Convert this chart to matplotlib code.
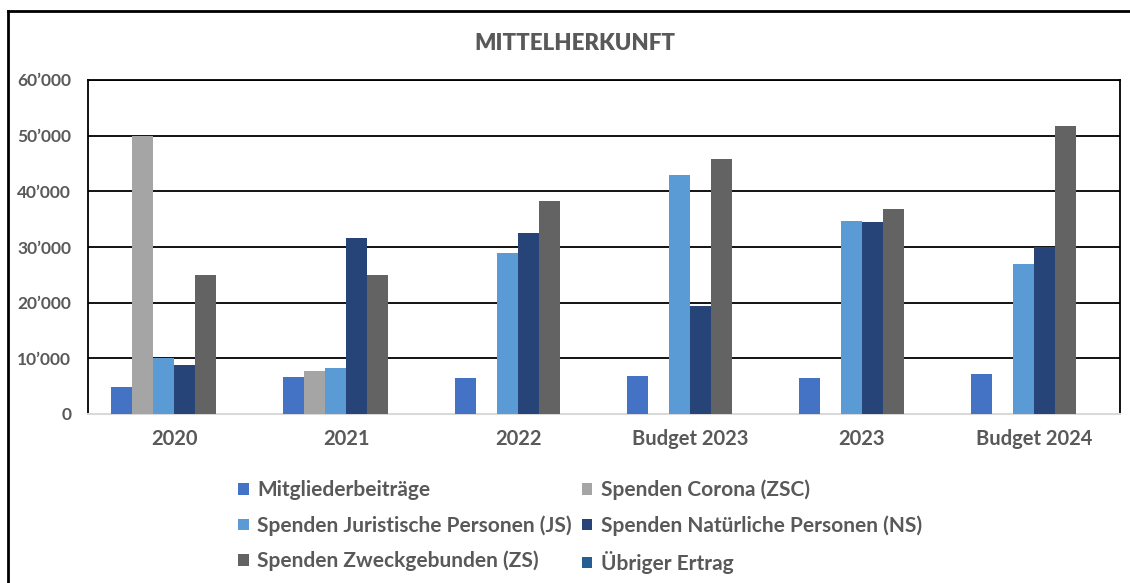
import matplotlib
matplotlib.use("Agg")

import matplotlib.pyplot as plt
from matplotlib.lines import Line2D
from matplotlib.ticker import FuncFormatter
import numpy as np

# data
categories = ["2020", "2021", "2022", "Budget 2023", "2023", "Budget 2024"]
series_names = ["Mitgliederbeiträge", "Spenden Corona (ZSC)",
                "Spenden Juristische Personen (JS)", "Spenden Natürliche Personen (NS)",
                "Spenden Zweckgebunden (ZS)", "Übriger Ertrag"]
mitglieder = [4800, 6700, 6500, 6900, 6500, 7200]
corona = [50000, 7800, 0, 0, 0, 0]
juristische = [10000, 8300, 29000, 43000, 34700, 27000]
natuerliche = [8800, 31700, 32500, 19400, 34500, 30000]
zweckgebunden = [25000, 25000, 38200, 45800, 36800, 51800]
uebriger = [0, 0, 0, 0, 0, 0]
colors = ["#4472C4", "#A5A5A5", "#5B9BD5", "#264478", "#636363", "#255E91"]

values = [mitglieder, corona, juristische, natuerliche, zweckgebunden, uebriger]

txt = "#595959"
plt.rcParams['font.family'] = ['Lato', 'DejaVu Sans']

fig = plt.figure(figsize=(11.3, 5.83), dpi=100)
ax = fig.add_axes([88/1130, 1-414/583, (1120-88)/1130, (414-80)/583])

x = np.arange(len(categories))
n = len(values)
w = 0.73 / n
bars = []
for i, (vals, col) in enumerate(zip(values, colors)):
    b = ax.bar(x + (i - (n-1)/2) * w, vals, width=w, color=col, zorder=3,
               label=series_names[i])
    bars.append(b)

ax.set_xlim(-0.5, len(categories) - 0.5)
ax.set_ylim(0, 60000)
ax.set_yticks(np.arange(0, 60001, 10000))
ax.yaxis.set_major_formatter(FuncFormatter(
    lambda v, p: "0" if v == 0 else "{:,.0f}".format(v).replace(",", "\u2019")))
ax.set_xticks(x)
ax.set_xticklabels(categories)
ax.tick_params(axis="both", length=0, colors=txt)
ax.tick_params(axis="y", labelsize=12.5, pad=12)
ax.tick_params(axis="x", labelsize=14.5, pad=11)
for lab in ax.get_xticklabels() + ax.get_yticklabels():
    lab.set_fontweight("bold")

ax.grid(axis="y", color="black", linewidth=1.3, zorder=0)
for s in ["top", "left", "right"]:
    ax.spines[s].set_color("black")
    ax.spines[s].set_linewidth(1.3)
ax.spines["bottom"].set_color("#D9D9D9")
ax.spines["bottom"].set_linewidth(1.5)

fig.text(575/1130, 1-43/583, "MITTELHERKUNFT", ha="center", va="center",
         fontsize=16, fontweight="heavy", color=txt)

# legend row-wise order
order = [0, 2, 4, 1, 3, 5]
handles = [bars[i] for i in order]
labels = [series_names[i] for i in order]
leg = fig.legend(handles, labels, ncol=2, loc="upper center",
                 bbox_to_anchor=(580/1130, 1-461/583), frameon=False,
                 fontsize=15, handlelength=0.5, handleheight=0.5,
                 handletextpad=0.4, columnspacing=0.5, labelspacing=0.72)
for t in leg.get_texts():
    t.set_color(txt)
    t.set_fontweight("bold")

# outer frame (top and left only visible)
fig.add_artist(Line2D([8/1130, 1], [1-11/583, 1-11/583], color="black",
                      linewidth=2, transform=fig.transFigure))
fig.add_artist(Line2D([8/1130, 8/1130], [0, 1-11/583], color="black",
                      linewidth=2, transform=fig.transFigure))

plt.savefig("out.png", dpi=100)
